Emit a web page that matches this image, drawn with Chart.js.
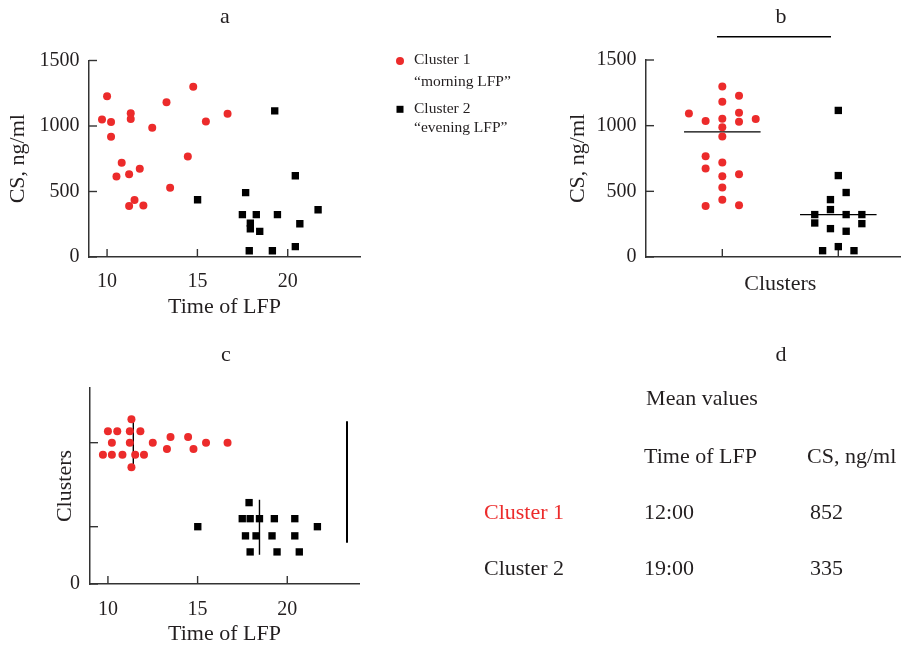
<!DOCTYPE html>
<html>
<head>
<meta charset="utf-8">
<script src="https://cdn.jsdelivr.net/npm/chart.js@4.4.0/dist/chart.umd.min.js"></script>
<style>
  body { margin: 0; background: #fff; }
  #wrap { position: relative; width: 906px; height: 647px; }
  #wrap canvas { position: absolute; left: 0; top: 0; }
</style>
</head>
<body>
<div id="wrap">
  <canvas id="chart-a" width="906" height="647"></canvas>
  <canvas id="chart-b" width="906" height="647"></canvas>
  <canvas id="chart-c" width="906" height="647"></canvas>
</div>
<script>
// cluster 1 ("morning LFP") - time of LFP (h) and CS (ng/ml)
const c1Time = [14.77, 10.0, 13.29, 11.31, 16.67, 11.31, 9.72, 15.47, 10.22, 12.5,
                10.22, 14.47, 10.81, 11.81, 11.22, 10.52, 13.49, 11.52, 12.01, 11.22];
const c1CS = [1299, 1228, 1182, 1098, 1093, 1053, 1050, 1035, 1030, 987,
              918, 768, 720, 674, 631, 615, 529, 435, 394, 389];
// cluster 2 ("evening LFP")
const c2Time = [19.28, 20.42, 17.67, 15.01, 21.68, 17.49, 18.26, 19.43, 17.93, 20.67,
                17.93, 18.45, 20.42, 17.87, 19.15];
const c2CS = [1116, 620, 491, 437, 361, 323, 323, 323, 259, 254, 216, 196, 79, 48, 48];

// beeswarm slots (panel b: sideways slot; panel c: vertical offset)
const c1SlotB = [0, 2, 0, 2, -4, 0, 4, -2, 2, 0, 0, -2, 0, -2, 2, 0, 0, 0, 2, -2];
const c2SlotB = [0, 0, 1, -1, -1, -3, 1, 3, -3, 3, -1, 1, 0, -2, 2];
const c1OffC = [-0.11, 0.2, -0.11, 0.41, 0, -0.43, -0.21, 0, 0, 0,
                -0.21, 0.1, -0.21, 0.2, 0.2, 0.2, 0.1, -0.21, -0.21, 0];
const c2OffC = [0.14, 0.14, -0.16, 0, 0, 0.14, -0.16, -0.44, 0.14, -0.44,
                -0.44, 0.14, -0.16, 0.42, -0.16];

const timeTicks = [10, 15, 20];
const csTicks = [0, 500, 1000, 1500];
const clusterPos = [1, 2];        // panel b x positions
const clusterRow = [2.466, 1];    // panel c y positions
const sigBar = [0.954, 1.937];    // bar over panel b
const bracketC = { x: 23.33, from: 0.72, to: 2.84 };

// panel d
const tableRows = ['Cluster 1', 'Cluster 2'];
const meanTime = ['12:00', '19:00'];
const meanCS = [852, 335];

const RED = '#ec2b2b';
const INK = '#231f20';
const AXIS = '#333';
const SERIF = "'Liberation Serif', 'Times New Roman', serif";

Chart.defaults.font.family = SERIF;
Chart.defaults.color = INK;
Chart.defaults.animation = false;

function median(arr) {
  const s = [...arr].sort((a, b) => a - b);
  const m = Math.floor(s.length / 2);
  return s.length % 2 ? s[m] : (s[m - 1] + s[m]) / 2;
}

// ticks point into the plot
const inwardTicks = {
  id: 'inwardTicks',
  beforeDatasetsDraw(chart) {
    const ctx = chart.ctx, a = chart.chartArea;
    ctx.save();
    ctx.strokeStyle = AXIS;
    ctx.lineWidth = 1.4;
    const xs = chart.scales.x, ys = chart.scales.y;
    xs.ticks.forEach(t => {
      const p = xs.getPixelForValue(t.value);
      ctx.beginPath(); ctx.moveTo(p, a.bottom); ctx.lineTo(p, a.bottom - 8); ctx.stroke();
    });
    ys.ticks.forEach(t => {
      const p = ys.getPixelForValue(t.value);
      ctx.beginPath(); ctx.moveTo(a.left, p); ctx.lineTo(a.left + 8, p); ctx.stroke();
    });
    ctx.restore();
  }
};

function fixedTicks(list) {
  return s => { s.ticks = list.map(v => ({ value: v })); };
}

function axisTitle(text) {
  return { display: true, text: text, color: INK, font: { size: 22 }, padding: { top: 0, bottom: 0 } };
}

const plain = v => String(v);
const border = { display: true, color: AXIS, width: 1.5 };
const noGrid = { display: false, drawTicks: false };

// ---------- panel a ----------
const annotate = {
  id: 'annotate',
  afterDraw(chart) {
    const ctx = chart.ctx;
    ctx.save();
    ctx.fillStyle = INK;
    ctx.textBaseline = 'middle';
    ctx.textAlign = 'center';
    ctx.font = '22px ' + SERIF;
    ctx.fillText('a', 225, 17);
    ctx.fillText('b', 781, 17);
    ctx.fillText('c', 226, 355);
    ctx.fillText('d', 781, 355);

    // legend
    ctx.textAlign = 'left';
    ctx.font = '15.5px ' + SERIF;
    ctx.fillStyle = RED;
    ctx.beginPath(); ctx.arc(400, 61, 4, 0, Math.PI * 2); ctx.fill();
    ctx.fillStyle = '#000';
    ctx.fillRect(396.5, 105.8, 7, 7);
    ctx.fillStyle = INK;
    ctx.fillText('Cluster 1', 414, 60);
    ctx.fillText('\u201Cmorning LFP\u201D', 414, 82);
    ctx.fillText('Cluster 2', 414, 109);
    ctx.fillText('\u201Cevening LFP\u201D', 414, 128);

    // table d
    ctx.font = '22px ' + SERIF;
    ctx.textAlign = 'center';
    ctx.fillText('Mean values', 702, 399);
    ctx.textAlign = 'left';
    ctx.fillText('Time of LFP', 644, 457);
    ctx.fillText('CS, ng/ml', 807, 457);
    const rowY = [513, 569];
    tableRows.forEach((r, i) => {
      ctx.fillStyle = i === 0 ? RED : INK;
      ctx.fillText(r, 484, rowY[i]);
      ctx.fillStyle = INK;
      ctx.fillText(meanTime[i], 644, rowY[i]);
      ctx.fillText(String(meanCS[i]), 810, rowY[i]);
    });
    ctx.restore();
  }
};

new Chart(document.getElementById('chart-a'), {
  type: 'scatter',
  data: {
    datasets: [
      {
        label: 'Cluster 1',
        data: c1Time.map((t, i) => ({ x: t, y: c1CS[i] })),
        pointStyle: 'circle', pointRadius: 4, pointBackgroundColor: RED, pointBorderWidth: 0
      },
      {
        label: 'Cluster 2',
        data: c2Time.map((t, i) => ({ x: t, y: c2CS[i] })),
        pointStyle: 'rect', pointRadius: 5.2, pointBackgroundColor: '#000', pointBorderWidth: 0
      }
    ]
  },
  options: {
    responsive: false,
    layout: { padding: { left: 5.2, right: 546, top: 60.5, bottom: 327 } },
    plugins: { legend: { display: false }, tooltip: { enabled: false } },
    scales: {
      x: {
        type: 'linear', min: 9, max: 24,
        afterBuildTicks: fixedTicks(timeTicks),
        afterFit: s => { s.height = 63; },
        grid: noGrid, border: border,
        ticks: { padding: 13, font: { size: 20 }, color: INK, callback: plain },
        title: axisTitle('Time of LFP')
      },
      y: {
        min: 0, max: 1500,
        afterBuildTicks: fixedTicks(csTicks),
        afterFit: s => { s.width = 83.8; },
        grid: noGrid, border: border,
        ticks: { padding: 9.5, font: { size: 20 }, color: INK, callback: plain },
        title: axisTitle('CS, ng/ml')
      }
    }
  },
  plugins: [inwardTicks, annotate]
});

// ---------- panel b ----------
const stepB = 0.072;
const med1 = median(c1CS), med2 = median(c2CS);

const panelB = {
  id: 'panelB',
  afterDraw(chart) {
    const ctx = chart.ctx, xs = chart.scales.x;
    ctx.save();
    ctx.strokeStyle = '#000';
    ctx.lineWidth = 1.5;
    ctx.beginPath();
    ctx.moveTo(xs.getPixelForValue(sigBar[0]), 36.7);
    ctx.lineTo(xs.getPixelForValue(sigBar[1]), 36.7);
    ctx.stroke();
    ctx.fillStyle = INK;
    ctx.font = '22px ' + SERIF;
    ctx.textAlign = 'center';
    ctx.textBaseline = 'middle';
    ctx.fillText('Clusters', xs.getPixelForValue(1.5), 284);
    ctx.restore();
  }
};

new Chart(document.getElementById('chart-b'), {
  type: 'scatter',
  data: {
    datasets: [
      {
        data: c1CS.map((v, i) => ({ x: clusterPos[0] + c1SlotB[i] * stepB, y: v })),
        pointStyle: 'circle', pointRadius: 4, pointBackgroundColor: RED, pointBorderWidth: 0
      },
      {
        data: c2CS.map((v, i) => ({ x: clusterPos[1] + c2SlotB[i] * stepB * 0.94, y: v })),
        pointStyle: 'rect', pointRadius: 5.2, pointBackgroundColor: '#000', pointBorderWidth: 0
      },
      {
        data: [{ x: clusterPos[0] - 0.33, y: med1 }, { x: clusterPos[0] + 0.33, y: med1 }],
        showLine: true, borderColor: '#000', borderWidth: 1.4, pointRadius: 0
      },
      {
        data: [{ x: clusterPos[1] - 0.33, y: med2 }, { x: clusterPos[1] + 0.33, y: med2 }],
        showLine: true, borderColor: '#000', borderWidth: 1.4, pointRadius: 0
      }
    ]
  },
  options: {
    responsive: false,
    layout: { padding: { left: 565.2, right: 6, top: 60, bottom: 350 } },
    plugins: { legend: { display: false }, tooltip: { enabled: false } },
    scales: {
      x: {
        type: 'linear', min: 0.342, max: 2.532,
        afterBuildTicks: fixedTicks(clusterPos),
        afterFit: s => { s.height = 40; },
        grid: noGrid, border: border,
        ticks: { display: false }
      },
      y: {
        min: 0, max: 1500,
        afterBuildTicks: fixedTicks(csTicks),
        afterFit: s => { s.width = 80.8; },
        grid: noGrid, border: border,
        ticks: { padding: 9.5, font: { size: 20 }, color: INK, callback: plain },
        title: axisTitle('CS, ng/ml')
      }
    }
  },
  plugins: [inwardTicks, panelB]
});

// ---------- panel c ----------
const medT1 = median(c1Time), medT2 = median(c2Time);

new Chart(document.getElementById('chart-c'), {
  type: 'scatter',
  data: {
    datasets: [
      {
        data: c1Time.map((t, i) => ({ x: t, y: clusterRow[0] + c1OffC[i] })),
        pointStyle: 'circle', pointRadius: 4, pointBackgroundColor: RED, pointBorderWidth: 0
      },
      {
        data: c2Time.map((t, i) => ({ x: t, y: clusterRow[1] + c2OffC[i] })),
        pointStyle: 'rect', pointRadius: 5.2, pointBackgroundColor: '#000', pointBorderWidth: 0
      },
      {
        data: [{ x: medT1, y: clusterRow[0] - 0.43 }, { x: medT1, y: clusterRow[0] + 0.42 }],
        showLine: true, borderColor: '#000', borderWidth: 1.4, pointRadius: 0
      },
      {
        data: [{ x: medT2, y: clusterRow[1] - 0.49 }, { x: medT2, y: clusterRow[1] + 0.47 }],
        showLine: true, borderColor: '#000', borderWidth: 1.4, pointRadius: 0
      },
      {
        data: [{ x: bracketC.x, y: bracketC.from }, { x: bracketC.x, y: bracketC.to }],
        showLine: true, borderColor: '#000', borderWidth: 2, pointRadius: 0
      }
    ]
  },
  options: {
    responsive: false,
    layout: { padding: { left: 51.9, right: 547, top: 388, bottom: 0 } },
    plugins: { legend: { display: false }, tooltip: { enabled: false } },
    scales: {
      x: {
        type: 'linear', min: 9, max: 24,
        afterBuildTicks: fixedTicks(timeTicks),
        afterFit: s => { s.height = 63; },
        grid: noGrid, border: border,
        ticks: { padding: 13.5, font: { size: 20 }, color: INK, callback: plain },
        title: axisTitle('Time of LFP')
      },
      y: {
        min: 0, max: 3.42,
        afterBuildTicks: fixedTicks([0, clusterRow[1], clusterRow[0]]),
        afterFit: s => { s.width = 38.1; },
        grid: noGrid, border: border,
        ticks: { padding: 10, font: { size: 20 }, color: INK, callback: v => (v === 0 ? '0' : '') },
        title: axisTitle('Clusters')
      }
    }
  },
  plugins: [inwardTicks]
});
</script>
</body>
</html>
